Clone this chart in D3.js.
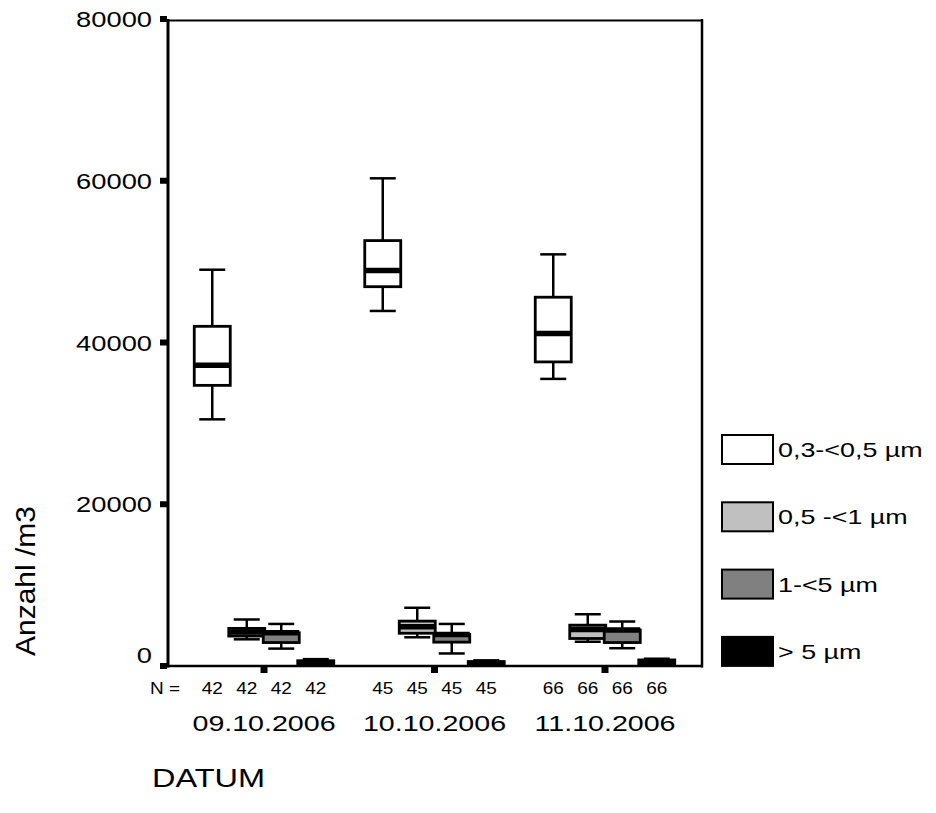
<!DOCTYPE html>
<html>
<head>
<meta charset="utf-8">
<script src="https://cdn.jsdelivr.net/npm/d3@7"></script>
<style>
  html, body { margin: 0; padding: 0; background: #fff; }
  svg { display: block; font-family: "Liberation Sans", Arial, sans-serif; }
</style>
</head>
<body>
<svg id="chart" width="936" height="813"></svg>
<script>
// ---- data ----
const categories = ["09.10.2006", "10.10.2006", "11.10.2006"];
const series = ["0,3-<0,5 µm", "0,5 -<1 µm", "1-<5 µm", "> 5 µm"];
const seriesFill = ["#ffffff", "#c0c0c0", "#808080", "#000000"];
const nCounts = [42, 45, 66];
// [min, q1, median, q3, max] per category
const stats03to05 = [[30500, 34700, 37200, 42000, 49000], [43900, 46900, 48900, 52600, 60300], [35500, 37600, 41100, 45600, 50900]];
const stats05to1 = [[3300, 3700, 4200, 4650, 5750], [3550, 4050, 4850, 5550, 7200], [3000, 3400, 4500, 5050, 6400]];
const stats1to5 = [[2150, 2900, 4100, 4100, 5200], [1550, 2950, 3900, 3900, 5200], [2200, 2900, 4450, 4450, 5500]];
const statsOver5 = [[50, 200, 400, 650, 850], [30, 150, 300, 550, 700], [50, 200, 450, 750, 900]];
const allStats = [stats03to05, stats05to1, stats1to5, statsOver5];
const yTicks = [0, 20000, 40000, 60000, 80000];

// ---- layout ----
const svg = d3.select("#chart");
const L = 167, R = 702, T = 19, B = 666;
const x = d3.scaleBand().domain(categories).range([L, R]).paddingInner(0).paddingOuter(0.069);
const xi = d3.scaleBand().domain(series).range([-69, 69]);
const y = d3.scaleLinear().domain([0, 80000]).range([B, T]);
const boxW = 36, capW = 26;

function stretchedText(g, px, py, txt, size, sx, anchor) {
  return g.append("text")
    .attr("transform", `translate(${px},${py}) scale(${sx},1)`)
    .attr("text-anchor", anchor || "start")
    .attr("font-size", size)
    .attr("fill", "#000")
    .text(txt);
}

// boxes
const gBoxes = svg.append("g");
series.forEach((s, si) => {
  categories.forEach((c, ci) => {
    const [mn, q1, md, q3, mx] = allStats[si][ci];
    const cx = x(c) + x.bandwidth() / 2 + xi(s) + xi.bandwidth() / 2;
    const g = gBoxes.append("g");
    // whiskers
    g.append("line").attr("x1", cx).attr("x2", cx).attr("y1", y(q3)).attr("y2", y(mx))
      .attr("stroke", "#000").attr("stroke-width", 2.5);
    g.append("line").attr("x1", cx).attr("x2", cx).attr("y1", y(q1)).attr("y2", y(mn))
      .attr("stroke", "#000").attr("stroke-width", 2.5);
    g.append("line").attr("x1", cx - capW / 2).attr("x2", cx + capW / 2).attr("y1", y(mx)).attr("y2", y(mx))
      .attr("stroke", "#000").attr("stroke-width", 2.5);
    g.append("line").attr("x1", cx - capW / 2).attr("x2", cx + capW / 2).attr("y1", y(mn)).attr("y2", y(mn))
      .attr("stroke", "#000").attr("stroke-width", 2.5);
    // box
    g.append("rect").attr("x", cx - boxW / 2).attr("width", boxW)
      .attr("y", y(q3)).attr("height", y(q1) - y(q3))
      .attr("fill", seriesFill[si]).attr("stroke", "#000").attr("stroke-width", 2.8);
    // median
    g.append("line").attr("x1", cx - boxW / 2).attr("x2", cx + boxW / 2).attr("y1", y(md)).attr("y2", y(md))
      .attr("stroke", "#000").attr("stroke-width", 5.5);
  });
});

// frame
const gF = svg.append("g").attr("stroke", "#000").attr("fill", "none");
gF.append("line").attr("x1", L + 1).attr("x2", L + 1).attr("y1", T).attr("y2", B + 1.5).attr("stroke-width", 3);
gF.append("line").attr("x1", L).attr("x2", R + 1).attr("y1", T + 1.5).attr("y2", T + 1.5).attr("stroke-width", 2.2);
gF.append("line").attr("x1", R).attr("x2", R).attr("y1", T).attr("y2", B + 1.5).attr("stroke-width", 2.5);
gF.append("line").attr("x1", L).attr("x2", R + 1).attr("y1", B).attr("y2", B).attr("stroke-width", 2.5);

// y ticks
const gY = svg.append("g");
yTicks.forEach(v => {
  gY.append("rect").attr("x", L - 7).attr("y", y(v) - 3).attr("width", 7).attr("height", 6).attr("fill", "#000");
  const off = v === 0 ? -3 : 8;
  stretchedText(gY, 152, y(v) + off, String(v), 21.5, 1.27, "end");
});

// x ticks
const gX = svg.append("g");
categories.forEach((c, ci) => {
  const cx = x(c) + x.bandwidth() / 2;
  gX.append("rect").attr("x", cx - 3.5).attr("y", B + 1).attr("width", 7).attr("height", 6).attr("fill", "#000");
  stretchedText(gX, cx, 731, c, 22, 1.3, "middle");
  series.forEach(s => {
    const bx = cx + xi(s) + xi.bandwidth() / 2;
    stretchedText(gX, bx, 694, String(nCounts[ci]), 16.5, 1.15, "middle");
  });
});
stretchedText(gX, 150, 694, "N =", 16.5, 1.15, "start");

// axis titles
stretchedText(svg, 152, 787, "DATUM", 26, 1.25, "start");
svg.append("text")
  .attr("transform", "translate(35,581) rotate(-90)")
  .attr("text-anchor", "middle")
  .attr("font-size", 27)
  .attr("textLength", 150)
  .attr("lengthAdjust", "spacingAndGlyphs")
  .text("Anzahl /m3");

// legend
const gL = svg.append("g");
series.forEach((s, si) => {
  const ly = 435 + si * 67.3;
  gL.append("rect").attr("x", 722).attr("y", ly).attr("width", 51).attr("height", 29)
    .attr("fill", seriesFill[si]).attr("stroke", "#000").attr("stroke-width", 2);
  stretchedText(gL, 778, ly + 22, s, 21, 1.28, "start");
});
</script>
</body>
</html>
